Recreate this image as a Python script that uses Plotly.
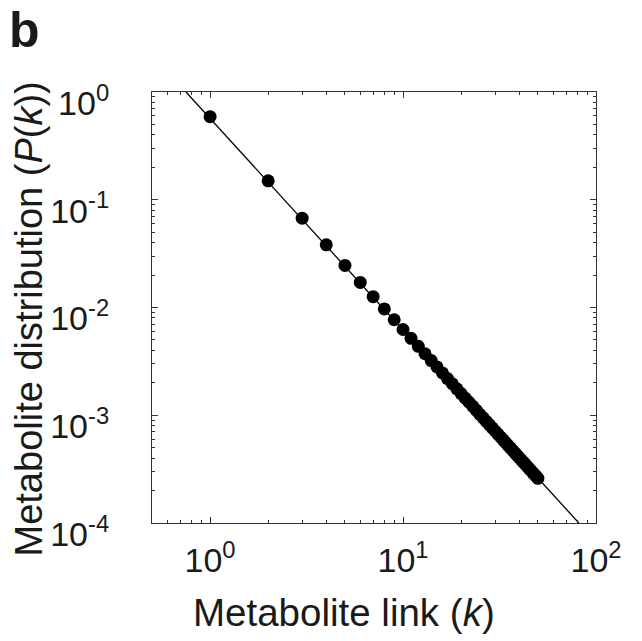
import plotly.graph_objects as go

# Data (log-log degree distribution)
k_values = list(range(1, 51))
p_values = [
    0.590, 0.150, 0.0674, 0.0382, 0.0246, 0.0171, 0.0126, 0.00971, 0.00770, 0.00625,
    0.00518, 0.00436, 0.00372, 0.00322, 0.00281, 0.00247, 0.00219, 0.00196, 0.00176, 0.00159,
    0.00144, 0.00132, 0.00121, 0.00111, 0.00102, 0.000947, 0.000879, 0.000818, 0.000763, 0.000714,
    0.000669, 0.000628, 0.000591, 0.000557, 0.000526, 0.000498, 0.000472, 0.000447, 0.000425, 0.000404,
    0.000385, 0.000367, 0.000351, 0.000335, 0.000320, 0.000307, 0.000294, 0.000282, 0.000271, 0.000260,
]
# Fitted power-law line endpoints (as read where it crosses the frame)
fit_k = [0.75, 81.5]
fit_p = [1.0, 1e-4]

x_tickvals = [1, 10, 100]
x_ticktext = ["10<sup>0</sup>", "10<sup>1</sup>", "10<sup>2</sup>"]
y_tickvals = [1, 0.1, 0.01, 0.001, 0.0001]
y_ticktext = ["10<sup>0</sup>", "10<sup>-1</sup>", "10<sup>-2</sup>", "10<sup>-3</sup>", "10<sup>-4</sup>"]

FONT = "Liberation Sans, Arial, Helvetica, sans-serif"
INK = "#1a1a1a"

fig = go.Figure()
fig.add_trace(go.Scatter(
    x=fit_k, y=fit_p, mode="lines",
    line=dict(color="black", width=1.3),
    showlegend=False, hoverinfo="skip",
))
fig.add_trace(go.Scatter(
    x=k_values, y=p_values, mode="markers",
    marker=dict(color="black", size=13, line=dict(width=0)),
    showlegend=False,
))

axis_common = dict(
    type="log",
    showgrid=False,
    zeroline=False,
    showline=True,
    linecolor="#333333",
    linewidth=1,
    mirror="allticks",
    ticks="inside",
    ticklen=6,
    tickwidth=1,
    tickcolor="#333333",
    tickfont=dict(family=FONT, size=34, color=INK),
    minor=dict(ticks="inside", dtick="D1", ticklen=3, tickwidth=1,
               tickcolor="#333333", showgrid=False),
)

fig.update_xaxes(
    **axis_common,
    range=[-0.30103, 2],
    tickvals=x_tickvals, ticktext=x_ticktext,
    ticklabelstandoff=7,
)
fig.update_yaxes(
    **axis_common,
    range=[-4, 0],
    tickvals=y_tickvals, ticktext=y_ticktext,
    ticklabelstandoff=35,
    ticklabelshift=11,
)

# Axis titles
fig.add_annotation(
    text="Metabolite link (<i>k</i>)", xref="paper", yref="paper",
    x=0.0878, y=-0.2077, xanchor="left", yanchor="middle",
    showarrow=False, font=dict(family=FONT, size=38.5, color=INK),
)
fig.add_annotation(
    text="Metabolite distribution (<i>P</i>(<i>k</i>))", xref="paper", yref="paper",
    x=-0.2748, y=0.4745, xanchor="center", yanchor="middle", textangle=-90,
    showarrow=False, font=dict(family=FONT, size=38, color=INK),
)
# Panel letter
fig.add_annotation(
    text="<b>b</b>", xref="paper", yref="paper",
    x=(7 - 152) / 444, y=1 + 92 / 431, xanchor="left", yanchor="top",
    showarrow=False, font=dict(family=FONT, size=50, color=INK),
)

fig.update_layout(
    width=642, height=641,
    margin=dict(l=152, r=46, t=92, b=118, autoexpand=False),
    paper_bgcolor="white", plot_bgcolor="white",
)

fig.write_html(
    "out.html",
    config={"displayModeBar": False},
    post_script="document.body.style.margin='0px';",
)
